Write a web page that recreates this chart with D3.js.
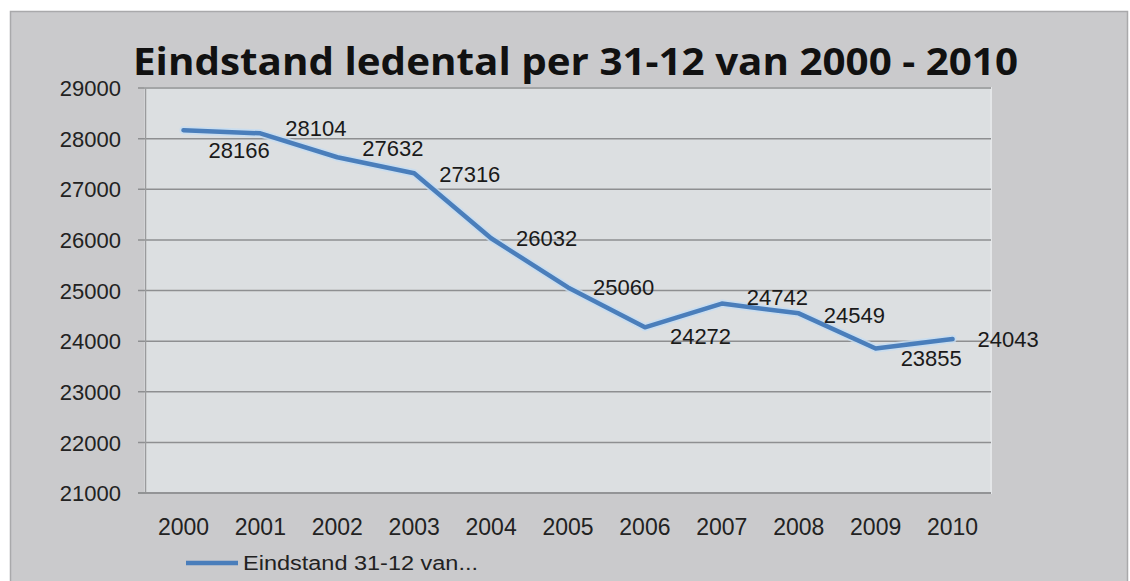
<!DOCTYPE html>
<html>
<head>
<meta charset="utf-8">
<script src="https://cdn.jsdelivr.net/npm/d3@7"></script>
<style>
  html, body { margin: 0; padding: 0; background: #ffffff; }
  svg { display: block; }
</style>
</head>
<body>
<svg id="chart" width="1130" height="581"></svg>
<script>
// ---- data ----
const years = ["2000","2001","2002","2003","2004","2005","2006","2007","2008","2009","2010"];
const members = [28166, 28104, 27632, 27316, 26032, 25060, 24272, 24742, 24549, 23855, 24043];
const yTicks = [21000, 22000, 23000, 24000, 25000, 26000, 27000, 28000, 29000];
const titleText = "Eindstand ledental per 31-12 van 2000 - 2010";
const seriesName = "Eindstand 31-12 van...";

// ---- layout ----
const W = 1130, H = 581;
const plot = { left: 145, right: 991, top: 88, bottom: 493 };
// vertical nudges of data labels (Excel-like placement)
const labelNudge = [20, -5, -9, 1, 0, 0, 9, -6, 2, 10, 0];

const svg = d3.select("#chart");

// outer chart area
svg.append("rect").attr("x", 10.5).attr("y", 11.5).attr("width", 1117).attr("height", 580)
  .attr("fill", "#cacacc").attr("stroke", "#a9a9ab").attr("stroke-width", 1.5);

// plot area
svg.append("rect").attr("x", plot.left).attr("y", plot.top)
  .attr("width", plot.right - plot.left).attr("height", plot.bottom - plot.top)
  .attr("fill", "#dcdfe1").attr("stroke", "#e4e6e8").attr("stroke-width", 2);

const x = d3.scaleBand().domain(years).range([plot.left, plot.right]).padding(0);
const y = d3.scaleLinear().domain([21000, 29000]).range([plot.bottom, plot.top]);

// gridlines
svg.append("g").selectAll("line").data(yTicks).join("line")
  .attr("x1", plot.left - 7).attr("x2", plot.right)
  .attr("y1", d => y(d)).attr("y2", d => y(d))
  .attr("stroke", "#8e8f91").attr("stroke-width", 1.5);

// left axis
const yAxis = d3.axisLeft(y).tickValues(yTicks).tickSize(0).tickPadding(0).tickFormat(d3.format("d"));
const gy = svg.append("g").attr("transform", `translate(${plot.left},0)`).call(yAxis);
gy.select(".domain").attr("stroke", "#9a9b9d").attr("stroke-width", 1.5);
gy.selectAll("text").attr("x", -24).attr("dy", "0.35em")
  .attr("font-family", "Liberation Sans, Arial, sans-serif").attr("font-size", 22).attr("fill", "#222");

// bottom axis
const xAxis = d3.axisBottom(x).tickSize(0).tickPadding(0);
const gx = svg.append("g").attr("transform", `translate(0,${plot.bottom})`).call(xAxis);
gx.select(".domain").attr("stroke", "#8e8f91").attr("stroke-width", 1.5)
  .attr("d", `M${plot.left - 7},0H${plot.right}`);
gx.selectAll("text").attr("y", 34).attr("dy", "0.35em")
  .attr("font-family", "Liberation Sans, Arial, sans-serif").attr("font-size", 23).attr("fill", "#222");

// line
const line = d3.line().x((d, i) => x(years[i]) + x.bandwidth() / 2).y(d => y(d));
svg.append("path").datum(members).attr("d", line)
  .attr("fill", "none").attr("stroke", "#c4dcf3").attr("stroke-width", 8)
  .attr("stroke-linejoin", "round").attr("stroke-linecap", "round").attr("opacity", 0.8);
svg.append("path").datum(members).attr("d", line)
  .attr("fill", "none").attr("stroke", "#4a7ebb").attr("stroke-width", 4.5)
  .attr("stroke-linejoin", "round").attr("stroke-linecap", "round");

// data labels
svg.append("g").selectAll("text").data(members).join("text")
  .attr("x", (d, i) => x(years[i]) + x.bandwidth() / 2 + 25)
  .attr("y", (d, i) => y(d) + labelNudge[i])
  .attr("dy", "0.35em")
  .attr("font-family", "Liberation Sans, Arial, sans-serif").attr("font-size", 22)
  .attr("fill", "#1a1a1a")
  .text(d => d);

// title
svg.append("text").attr("x", 133).attr("y", 75)
  .attr("font-family", "Open Sans, Liberation Sans, sans-serif").attr("font-weight", "bold")
  .attr("font-size", 38).attr("fill", "#111")
  .attr("textLength", 885).attr("lengthAdjust", "spacingAndGlyphs")
  .text(titleText);

// legend
svg.append("line").attr("x1", 186).attr("x2", 238).attr("y1", 563).attr("y2", 563)
  .attr("stroke", "#4a7ebb").attr("stroke-width", 4.5);
svg.append("text").attr("x", 243).attr("y", 563).attr("dy", "0.35em")
  .attr("font-family", "Liberation Sans, Arial, sans-serif").attr("font-size", 20).attr("fill", "#222")
  .attr("textLength", 235).attr("lengthAdjust", "spacingAndGlyphs")
  .text(seriesName);
</script>
</body>
</html>
